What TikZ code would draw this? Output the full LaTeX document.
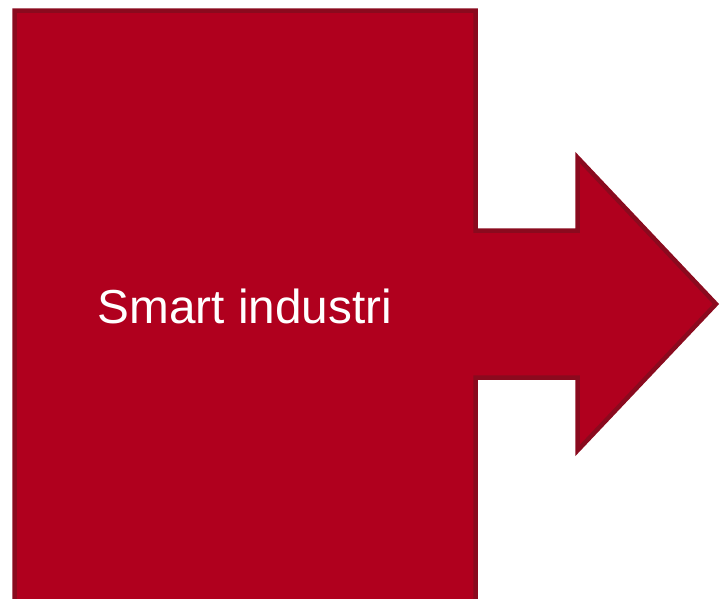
\documentclass[tikz,border=0pt]{standalone}
\usepackage{fontspec}
\setmainfont{Liberation Sans}
\definecolor{fillred}{HTML}{B0001E}
\definecolor{edgered}{HTML}{8A0A1E}
\begin{document}
\begin{tikzpicture}[x=1pt,y=-1pt,
  calloutshape/.style={fill=fillred,draw=edgered,line width=4.5pt,line join=miter},
  labeltext/.style={text=white,font=\fontsize{47.7}{57}\selectfont,inner sep=0pt}]
\useasboundingbox (0,0) rectangle (720,598);
\begin{scope}
\clip (0,0) rectangle (720,598);
\draw[calloutshape] (14.5,10.5) -- (475.5,10.5) -- (475.5,230.5) -- (577.5,230.5) -- (577.5,157.5)
  -- (716,304) -- (577.5,450.5) -- (577.5,377.5) -- (475.5,377.5) -- (475.5,610) -- (14.5,610) -- cycle;
\end{scope}
\node[labeltext] (label) at (245,306) {Smart industri};
\end{tikzpicture}
\end{document}
